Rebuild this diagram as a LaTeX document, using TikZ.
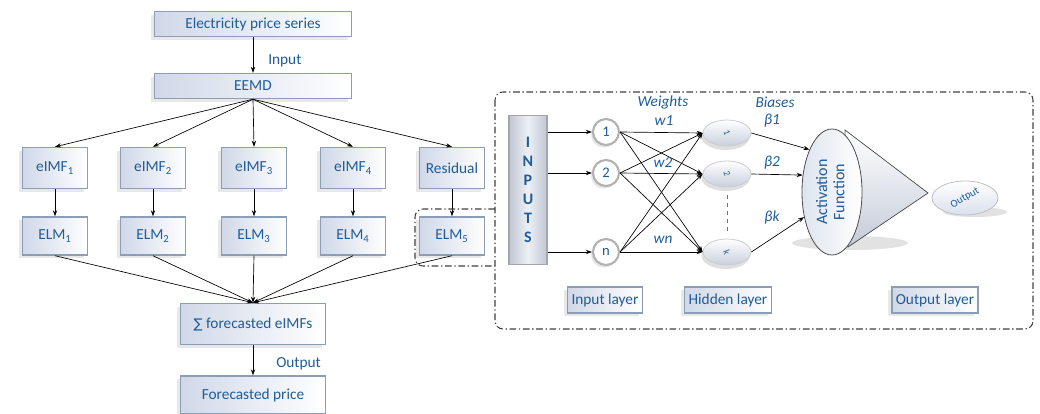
\documentclass[tikz,border=0pt]{standalone}
\usepackage{fontspec}
\setmainfont{Carlito}
\newfontfamily\symf{DejaVu Sans}
\usetikzlibrary{shadows,arrows.meta,shapes.geometric}
\definecolor{txt}{HTML}{1F5C99}
\definecolor{bord}{HTML}{8C9DB8}
\definecolor{fillA}{HTML}{D0D8E8}
\definecolor{frame}{HTML}{404040}
\tikzset{
  pbox/.style={draw=bord,line width=1.1pt,left color=fillA,right color=white,
    text=txt,font=\fontsize{11.5}{13}\selectfont,inner sep=0pt,
    drop shadow={shadow xshift=-3pt,shadow yshift=-2.5pt,opacity=0.18}},
  wide/.style={pbox,minimum width=147.75pt,minimum height=18.75pt},
  small/.style={pbox,minimum width=48.75pt,minimum height=30.75pt},
  elm/.style={pbox,minimum width=48.75pt,minimum height=28.5pt},
  sumb/.style={pbox,minimum width=108.75pt,minimum height=30.75pt},
  lay/.style={pbox,minimum height=19.5pt},
  arr/.style={-{Stealth[length=4.5pt,width=3.2pt]},line width=0.5pt,black},
  lbl/.style={text=txt,font=\fontsize{11.5}{13}\selectfont,inner sep=0pt},
  ilbl/.style={lbl,font=\fontsize{11.5}{13}\selectfont\itshape},
  inc/.style={circle,draw=gray!60,line width=1.6pt,fill=white,minimum size=19.5pt,inner sep=0pt,
    text=txt,font=\fontsize{11}{12}\selectfont,
    drop shadow={shadow xshift=-1.5pt,shadow yshift=-2pt,opacity=0.2}},
  hid/.style={ellipse,draw=gray!40,line width=0.6pt,top color=white,bottom color=fillA!90!gray,
    minimum width=36pt,minimum height=19.5pt,inner sep=0pt,text=txt,font=\fontsize{7}{8}\selectfont,
    drop shadow={shadow xshift=-1pt,shadow yshift=-3pt,opacity=0.25}},
  frm/.style={draw=frame,line width=0.8pt,dash pattern=on 5pt off 2pt on 1pt off 2pt,rounded corners=6pt},
}
\begin{document}
\begin{tikzpicture}[x=0.75pt,y=-0.75pt]
\useasboundingbox (0,0) rectangle (1040,414);
% left flowchart
\node[wide] (eps) at (253,24) {Electricity price series};
\node[wide] (eemd) at (253,86) {EEMD};
\node[small] (i1) at (55,168) {eIMF\textsubscript{1}};
\node[small] (i2) at (153,168) {eIMF\textsubscript{2}};
\node[small] (i3) at (254,168) {eIMF\textsubscript{3}};
\node[small] (i4) at (353,168) {eIMF\textsubscript{4}};
\node[small] (i5) at (452,168) {Residual};
\node[elm] (e1) at (55,236) {ELM\textsubscript{1}};
\node[elm] (e2) at (153,236) {ELM\textsubscript{2}};
\node[elm] (e3) at (254,236) {ELM\textsubscript{3}};
\node[elm] (e4) at (353,236) {ELM\textsubscript{4}};
\node[elm] (e5) at (452,236) {ELM\textsubscript{5}};
\node[sumb] (sum) at (253,324) {{\symf\fontsize{10}{12}\selectfont ∑} forecasted eIMFs};
\node[sumb,minimum height=28.5pt] (fp) at (253,395) {Forecasted price};
\node[lbl,anchor=west] (lin) at (268,61) {Input};
\node[lbl,anchor=west] (lout) at (276,364) {Output};
\draw[arr] (eps) -- (eemd);
\foreach \n in {i1,i2,i3,i4,i5} \draw[arr] (eemd.south) -- (\n.north);
\foreach \k in {1,...,5} \draw[arr] (i\k) -- (e\k);
\foreach \n in {e1,e2,e3,e4,e5} \draw[arr] (\n.south) -- (sum.north);
\draw[arr] (sum) -- (fp);
% frames
\draw[frm] (495,92) rectangle (1033,329);
\draw[frm] (495,209) -- (415,209) -- (415,266) -- (495,266);
% inputs
\node[draw=gray!70,line width=1.2pt,left color=fillA!80!gray,right color=fillA!80!gray,middle color=white!60!fillA,
  minimum width=28.5pt,minimum height=111.75pt,inner sep=0pt,align=center,text=txt,
  font=\fontsize{12}{14.2}\selectfont\bfseries] (inp) at (528,190) {I\\N\\P\\U\\T\\S};
\node[inc] (c1) at (606,132) {1};
\node[inc] (c2) at (606,173) {2};
\node[inc] (cn) at (606,252) {n};
\foreach \c in {c1,c2,cn} \draw[arr] (inp.east |- \c) -- (\c.west);
\node[hid] (h1) at (727,133) {\rotatebox{-70}{1}};
\node[hid] (h2) at (727,174) {\rotatebox{-70}{2}};
\node[hid] (hk) at (727,252) {\rotatebox{-70}{k}};
\foreach \c in {c1,c2,cn} \foreach \h in {h1,h2,hk} \draw[arr] (\c.east) -- (\h.west);
\draw[txt!80,dashed,line width=0.6pt,shorten >=6pt,shorten <=6pt] (h2.south) -- (hk.north);
\node[ilbl] (wt) at (663,102) {Weights};
\node[ilbl] (w1) at (664,121) {w1};
\node[ilbl] (w2) at (663,163) {w2};
\node[ilbl] (wn) at (663,240) {wn};
\node[ilbl] (bi) at (775,102) {Biases};
\node[ilbl] (b1) at (772,121) {β1};
\node[ilbl] (b2) at (772,163) {β2};
\node[ilbl] (bk) at (772,218) {βk};
% cone
\fill[gray!45,opacity=0.5] (850,243) ellipse (58 and 7);
\coordinate (apex) at (928,193);
\fill[top color=white,bottom color=fillA!85!gray,draw=black!70,line width=0.5pt] (845,130) -- (apex) -- (848,247) -- cycle;
\node[ellipse,draw=black!70,line width=0.6pt,left color=fillA!70,right color=white,
  minimum width=45pt,minimum height=94.5pt,inner sep=0pt,text=txt,font=\fontsize{12}{14}\selectfont] (act) at (832,192)
  {\rotatebox{90}{\begin{tabular}{@{}c@{}}Activation\\[-1pt]Function\end{tabular}}};
\draw[arr] (h1.east) -- (act.118);
\draw[arr] (h2.east) -- (act.150);
\draw[arr] (hk.east) -- (act.222);
% output
\fill[gray!45,opacity=0.5] (975,212) ellipse (32 and 5);
\node[ellipse,draw=gray!50,line width=0.6pt,top color=white,bottom color=fillA!80,
  minimum width=49.5pt,minimum height=25.5pt,inner sep=0pt,text=txt,font=\fontsize{8}{9}\selectfont] (out) at (965,198)
  {\rotatebox{30}{Output}};
% layer labels
\node[lay,minimum width=56.25pt] (il) at (605,300) {Input layer};
\node[lay,minimum width=65.25pt] (hl) at (728,300) {Hidden layer};
\node[lay,minimum width=64.5pt] (ol) at (935,300) {Output layer};
\end{tikzpicture}
\end{document}
